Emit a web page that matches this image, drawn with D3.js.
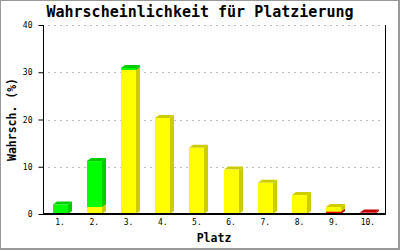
<!DOCTYPE html>
<html>
<head>
<meta charset="utf-8">
<script src="https://cdn.jsdelivr.net/npm/d3@7"></script>
<style>
  body { margin: 0; background: #fff; }
  svg { display: block; }
  text { font-family: "DejaVu Sans Mono", "Liberation Mono", monospace; }
</style>
</head>
<body>
<svg id="chart" width="400" height="250"></svg>
<script>
// Platz 1..10, stacked parts (bottom to top): red, yellow, green
const places = ["1.", "2.", "3.", "4.", "5.", "6.", "7.", "8.", "9.", "10."];
const redPart = [0, 0, 0, 0, 0, 0, 0, 0, 0.5, 0.3];
const yellowPart = [0, 1.5, 30.5, 20.3, 14.0, 9.4, 6.6, 4.0, 1.0, 0];
const greenPart = [2.0, 9.7, 0.4, 0, 0, 0, 0, 0, 0, 0];
const yTicks = [0, 10, 20, 30, 40];

const parts = [
  { vals: redPart, front: "#ee0000", dark: "#c00000" },
  { vals: yellowPart, front: "#ffff00", dark: "#cccc00" },
  { vals: greenPart, front: "#00ff00", dark: "#00cc00" }
];

const svg = d3.select("#chart");
const pLeft = 43, pRight = 385, pTop = 25, pBottom = 214;

// frame
svg.append("rect").attr("x", 0.5).attr("y", 0.5).attr("width", 398).attr("height", 248)
  .attr("fill", "none").attr("stroke", "#999");
svg.append("line").attr("x1", 399.5).attr("x2", 399.5).attr("y1", 0).attr("y2", 250).attr("stroke", "#999");
svg.append("line").attr("x1", 0).attr("x2", 400).attr("y1", 249.5).attr("y2", 249.5).attr("stroke", "#999");

const x = d3.scaleBand().domain(places).range([pLeft, pRight]);
const y = d3.scaleLinear().domain([0, 40]).range([pBottom, pTop]);

// grid
svg.append("g").selectAll("line").data(yTicks.slice(1)).join("line")
  .attr("x1", pLeft + 5).attr("x2", pRight - 2)
  .attr("y1", d => Math.round(y(d)) + 0.5).attr("y2", d => Math.round(y(d)) + 0.5)
  .attr("stroke", "#c0c0c0").attr("stroke-dasharray", "2,4");

// bars with 3D look
const dx = 4, dy = 3, bw = 15;
const barG = svg.append("g");
places.forEach((p, i) => {
  let base = 0;
  const x0 = Math.round(x(p) + x.bandwidth() / 2 - bw / 2);
  const x1 = x0 + bw;
  parts.forEach(part => {
    const v = part.vals[i];
    if (v <= 0) return;
    const yb = y(base), yt = y(base + v);
    barG.append("path")
      .attr("d", `M${x1},${yb}L${x1 + dx},${yb - dy}L${x1 + dx},${yt - dy}L${x1},${yt}Z`)
      .attr("fill", part.dark);
    barG.append("path")
      .attr("d", `M${x0},${yt}L${x0 + dx},${yt - dy}L${x1 + dx},${yt - dy}L${x1},${yt}Z`)
      .attr("fill", part.dark);
    barG.append("rect").attr("x", x0).attr("y", yt).attr("width", bw).attr("height", yb - yt)
      .attr("fill", part.front);
    base += v;
  });
});

// axes
const yAxis = svg.append("g").attr("transform", `translate(${pLeft + 0.5},0)`)
  .call(d3.axisLeft(y).tickValues(yTicks).tickSize(5).tickPadding(6));
yAxis.select(".domain").attr("d", `M0,${pTop}V${pBottom}`);
yAxis.selectAll("text").attr("font-size", 8).attr("font-family", "DejaVu Sans Mono");

svg.append("line").attr("x1", pRight + 0.5).attr("x2", pRight + 0.5).attr("y1", pTop).attr("y2", pBottom)
  .attr("stroke", "#000");

const xAxis = svg.append("g").attr("transform", `translate(0,${pBottom})`)
  .call(d3.axisBottom(x).tickSize(0).tickPadding(5));
xAxis.select(".domain").attr("stroke-width", 2).attr("d", `M${pLeft},0H${pRight + 1}`);
xAxis.selectAll("text").attr("font-size", 8).attr("font-family", "DejaVu Sans Mono");

// titles
svg.append("text").attr("x", 200).attr("y", 17).attr("text-anchor", "middle")
  .attr("font-size", 15).attr("font-weight", "bold")
  .text("Wahrscheinlichkeit für Platzierung");
svg.append("text").attr("x", (pLeft + pRight) / 2).attr("y", 242).attr("text-anchor", "middle")
  .attr("font-size", 11.5).attr("font-weight", "bold").text("Platz");
svg.append("text").attr("transform", `translate(16,${(pTop + pBottom) / 2}) rotate(-90)`)
  .attr("text-anchor", "middle").attr("font-size", 11.5).attr("font-weight", "bold")
  .text("Wahrsch. (%)");
</script>
</body>
</html>
